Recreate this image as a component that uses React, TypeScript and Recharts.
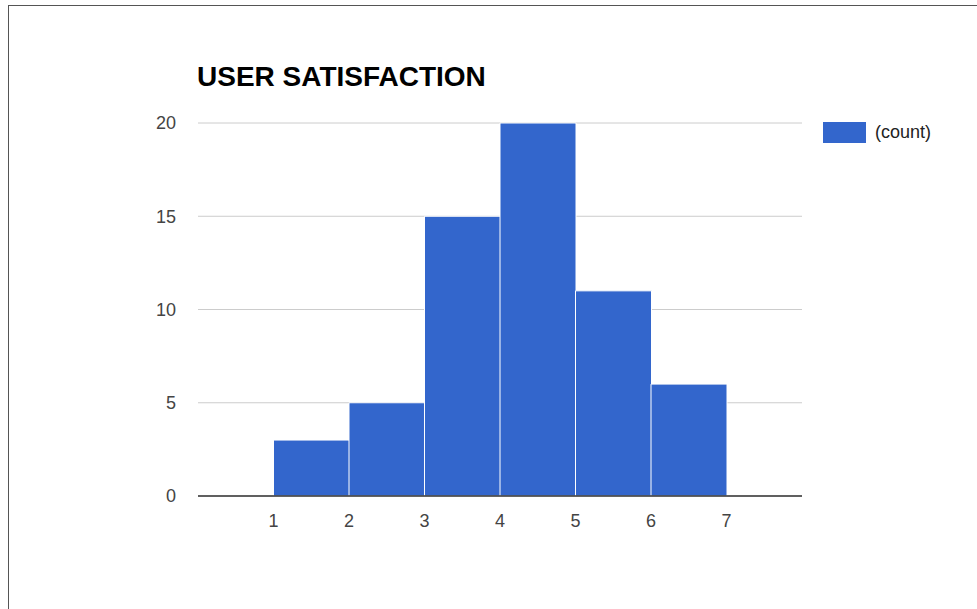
import { Bar, ComposedChart, CartesianGrid, XAxis, YAxis } from "recharts";

// histogram bins: each bar spans [binStart, binStart + 1]
const binStarts = [1, 2, 3, 4, 5, 6];
const counts = [3, 5, 15, 20, 11, 6];
const xTicks = [1, 2, 3, 4, 5, 6, 7];
const yTicks = [0, 5, 10, 15, 20];

const data = binStarts.map((start, i) => ({ mid: start + 0.5, count: counts[i] }));

const FONT = "'Liberation Sans', Arial, sans-serif";

export default function App() {
  return (
    <div style={{ position: "absolute", left: 0, top: 0, width: 977, height: 609, background: "#fff", overflow: "hidden" }}>
      <div style={{ position: "absolute", left: 8, top: 5, right: -2, bottom: -2, borderLeft: "1px solid #555", borderTop: "1px solid #555" }} />
      <div style={{ position: "absolute", left: 197, top: 61, fontFamily: FONT, fontSize: 28, fontWeight: "bold", color: "#000" }}>
        USER SATISFACTION
      </div>
      <div style={{ position: "absolute", left: 823, top: 122, display: "flex", alignItems: "center", fontFamily: FONT, fontSize: 18, color: "#222" }}>
        <div style={{ width: 43, height: 21, background: "#3366cc", marginRight: 9 }} />
        <span>(count)</span>
      </div>
      <div style={{ position: "absolute", left: 0, top: 0 }}>
        <ComposedChart
          width={977}
          height={609}
          data={data}
          margin={{ top: 123, right: 175, left: 138, bottom: 83 }}
          barCategoryGap={0}
          barGap={0}
        >
          <CartesianGrid vertical={false} stroke="#cccccc" />
          <XAxis
            dataKey="mid"
            type="number"
            domain={[0, 8]}
            ticks={xTicks}
            height={30}
            axisLine={{ stroke: "#333", strokeWidth: 1.5 }}
            tickLine={false}
            tickMargin={12}
            tick={{ fill: "#444", fontSize: 18, fontFamily: FONT }}
          />
          <YAxis
            domain={[0, 20]}
            ticks={yTicks}
            width={60}
            axisLine={false}
            tickLine={false}
            tickMargin={16}
            tick={{ fill: "#444", fontSize: 18, fontFamily: FONT }}
          />
          <Bar dataKey="count" fill="#3366cc" stroke="#ffffff" strokeWidth={1} isAnimationActive={false} />
        </ComposedChart>
      </div>
    </div>
  );
}
